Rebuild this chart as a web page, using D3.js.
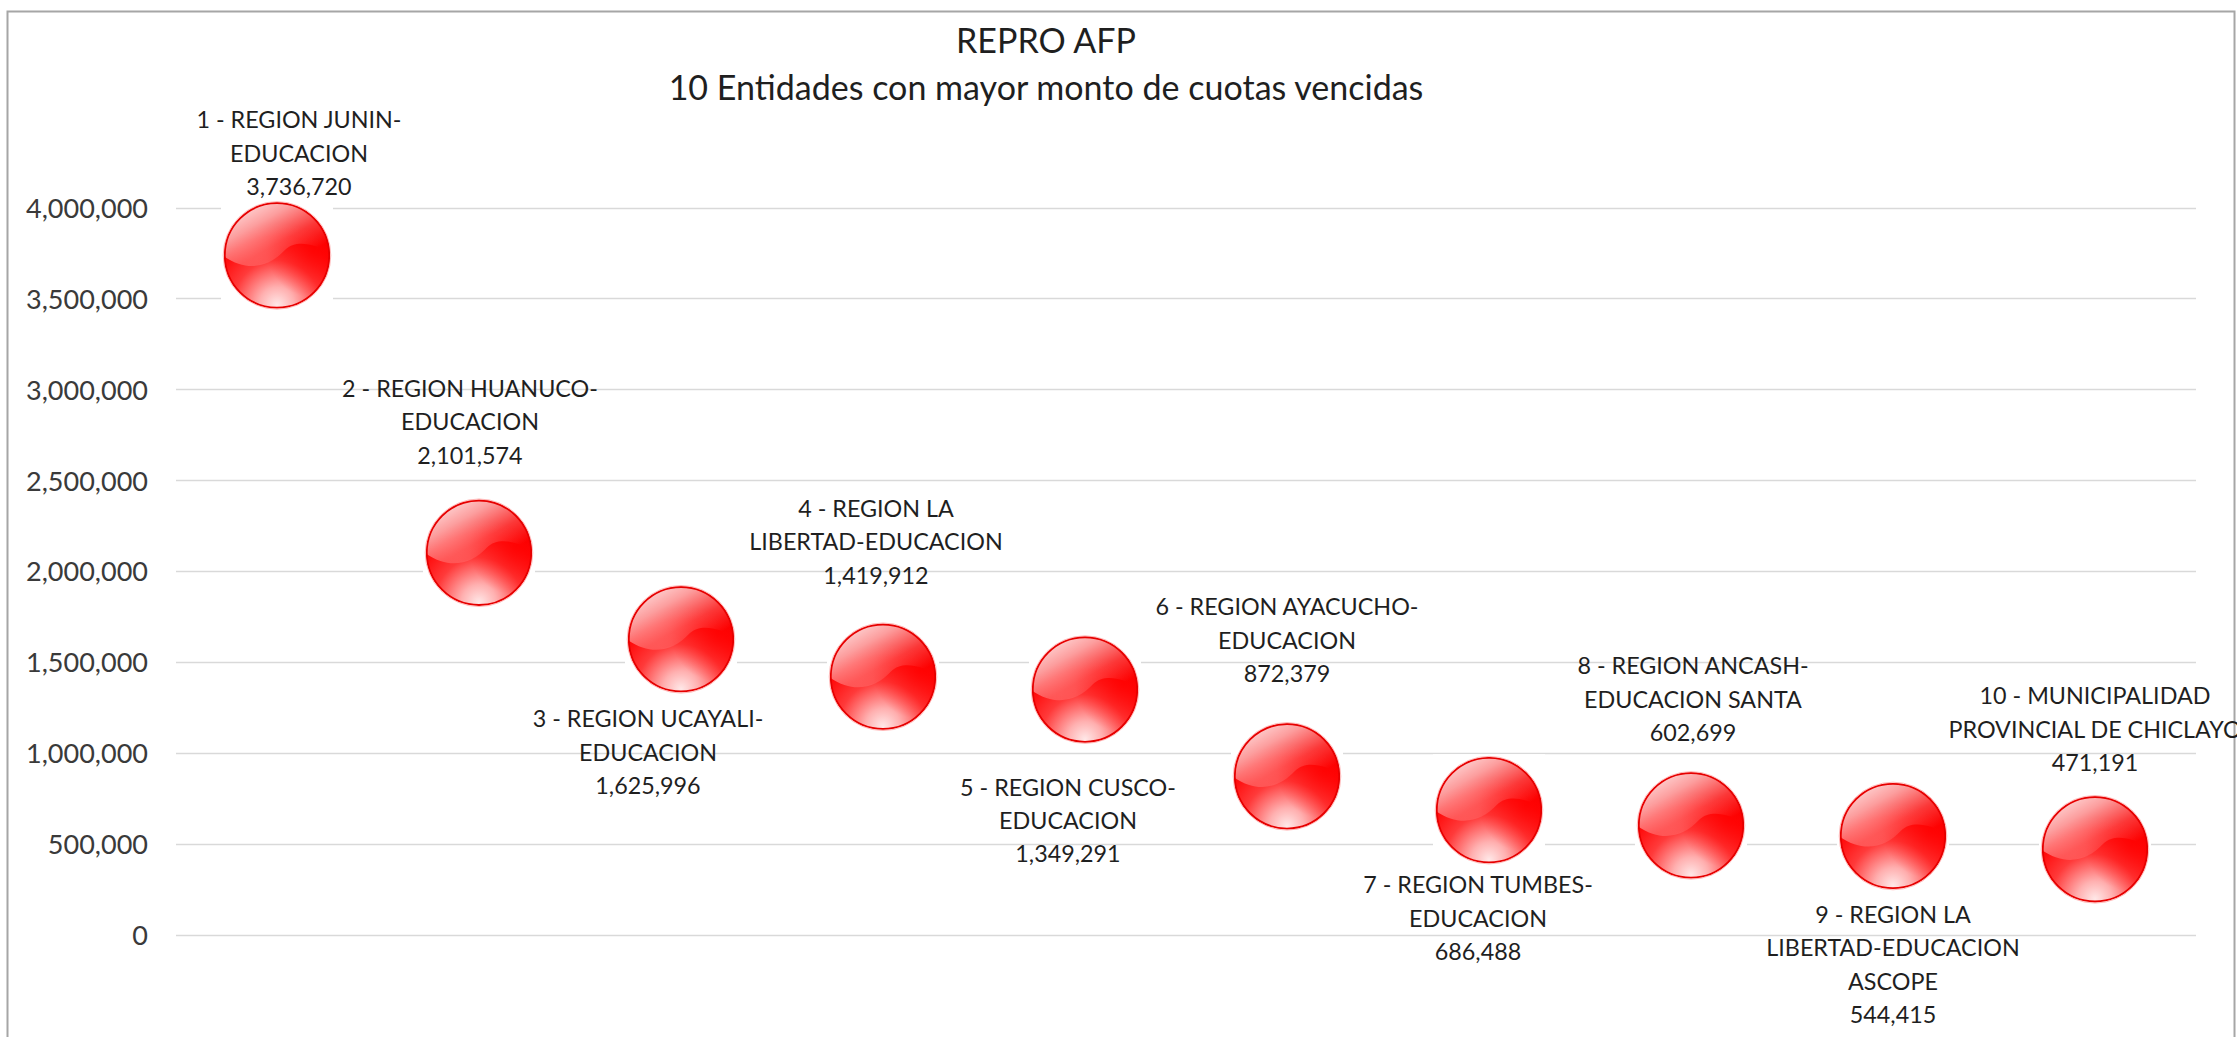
<!DOCTYPE html>
<html>
<head>
<meta charset="utf-8">
<script src="https://cdn.jsdelivr.net/npm/d3@7"></script>
<style>
  html, body { margin: 0; padding: 0; background: #ffffff; }
  svg { display: block; }
</style>
</head>
<body>
<svg id="chart" width="2237" height="1037"></svg>
<script>
// ---------------- DATA ----------------
const titleLines = ["REPRO AFP", "10 Entidades con mayor monto de cuotas vencidas"];
const entityNames = [
  ["1 - REGION JUNIN-", "EDUCACION"],
  ["2 - REGION HUANUCO-", "EDUCACION"],
  ["3 - REGION UCAYALI-", "EDUCACION"],
  ["4 - REGION LA", "LIBERTAD-EDUCACION"],
  ["5 - REGION CUSCO-", "EDUCACION"],
  ["6 - REGION AYACUCHO-", "EDUCACION"],
  ["7 - REGION TUMBES-", "EDUCACION"],
  ["8 - REGION ANCASH-", "EDUCACION SANTA"],
  ["9 - REGION LA", "LIBERTAD-EDUCACION", "ASCOPE"],
  ["10 - MUNICIPALIDAD", "PROVINCIAL DE CHICLAYO"]
];
const amounts = [3736720, 2101574, 1625996, 1419912, 1349291, 872379, 686488, 602699, 544415, 471191];
const yTicks = [0, 500000, 1000000, 1500000, 2000000, 2500000, 3000000, 3500000, 4000000];

// ---------------- LAYOUT (not data) ----------------
// label offset from bubble centre: [dx, dy of first baseline]
const labelOffsets = [[22, -127], [-9, -156], [-33, 88], [-7, -160], [-17, 106],
                      [0, -161], [-11, 83], [2, -151], [0, 87], [0, -145]];
const plot = { left: 176, right: 2196, top: 207.5, bottom: 935 };
const bubbleR = 53;
const lineGap = 33.4;

const svg = d3.select("#chart");
const fontFam = "Lato, 'Open Sans', 'Noto Sans', sans-serif";

function fitSize(sample, target) {
  const t = svg.append("text").attr("font-family", fontFam).attr("font-size", 100).text(sample);
  const w = t.node().getComputedTextLength();
  t.remove();
  return 100 * target / w;
}
const labelSize = fitSize("EDUCACION", 138);
const axisSize = fitSize("1,000,000", 122);
const titleSize = fitSize(titleLines[1], 755);

// chart border
svg.append("rect")
  .attr("x", 7.5).attr("y", 11.5).attr("width", 2227).attr("height", 1100)
  .attr("fill", "#ffffff").attr("stroke", "#a6a6a6").attr("stroke-width", 2);

// scales
const idx = d3.range(amounts.length);
const x = d3.scalePoint().domain(idx).range([plot.left, plot.right]).padding(0.5);
const y = d3.scaleLinear().domain([0, 4000000]).range([plot.bottom, plot.top]);
const fmt = d3.format(",");

// gridlines
svg.append("g").selectAll("line").data(yTicks).join("line")
  .attr("x1", plot.left).attr("x2", plot.right)
  .attr("y1", d => Math.round(y(d)) + 0.5).attr("y2", d => Math.round(y(d)) + 0.5)
  .attr("stroke", "#d9d9d9").attr("stroke-width", 1.6);

// y axis labels
const yAxis = d3.axisLeft(y).tickValues(yTicks).tickFormat(fmt).tickSize(0).tickPadding(0);
const gy = svg.append("g").attr("transform", `translate(148,0)`).call(yAxis);
gy.select(".domain").remove();
gy.selectAll("text")
  .attr("font-family", fontFam).attr("font-size", axisSize)
  .attr("fill", "#3a3a3a").attr("x", 0).attr("dy", "0.36em");

// title
svg.append("text")
  .attr("x", 1046).attr("y", 53)
  .attr("text-anchor", "middle").attr("font-family", fontFam)
  .attr("font-size", titleSize).attr("fill", "#1f1f1f")
  .selectAll("tspan").data(titleLines).join("tspan")
  .attr("x", 1046).attr("dy", (d, i) => i === 0 ? 0 : 47)
  .text(d => d);

// defs for glossy bubbles
const defs = svg.append("defs");
const base = defs.append("radialGradient").attr("id", "ballBase")
  .attr("cx", 0.5).attr("cy", 0.95).attr("r", 0.75).attr("fx", 0.5).attr("fy", 0.97);
[[0, "#ffe8e8"], [0.22, "#ffb0b0"], [0.55, "#ff3a3a"], [0.85, "#ff0a0a"], [1, "#f80000"]]
  .forEach(([o, c]) => base.append("stop").attr("offset", o).attr("stop-color", c));
const shine = defs.append("linearGradient").attr("id", "ballShine")
  .attr("x1", 0.15).attr("y1", 0.0).attr("x2", 0.85).attr("y2", 0.75);
[[0, 0.9], [0.35, 0.62], [0.7, 0.22], [1, 0.0]]
  .forEach(([o, a]) => shine.append("stop").attr("offset", o).attr("stop-color", "#ffffff").attr("stop-opacity", a));
const side = defs.append("radialGradient").attr("id", "ballSide")
  .attr("cx", 0.85).attr("cy", 0.45).attr("r", 0.45);
side.append("stop").attr("offset", 0).attr("stop-color", "#ff0000").attr("stop-opacity", 0.75);
side.append("stop").attr("offset", 1).attr("stop-color", "#ff0000").attr("stop-opacity", 0);
defs.append("clipPath").attr("id", "ballClip")
  .append("circle").attr("cx", 0).attr("cy", 0).attr("r", bubbleR);

const r = bubbleR;
const shinePath = `M${-r},${0.02 * r} C${-0.55 * r},${0.32 * r} ${-0.15 * r},${0.22 * r} ${0.15 * r},${-0.1 * r}
  C${0.35 * r},${-0.3 * r} ${0.7 * r},${-0.22 * r} ${r},${-0.05 * r} L${r},${-r} L${-r},${-r} Z`;

// bubbles
const bubbles = svg.append("g").selectAll("g").data(idx).join("g")
  .attr("transform", i => `translate(${x(i)},${y(amounts[i])})`);
bubbles.append("rect")
  .attr("x", -r - 3).attr("y", -r - 3).attr("width", 2 * r + 6).attr("height", 2 * r + 6)
  .attr("fill", "#ffffff");
bubbles.append("circle").attr("r", r).attr("fill", "url(#ballBase)");
bubbles.append("circle").attr("r", r).attr("fill", "url(#ballSide)");
bubbles.append("path").attr("d", shinePath).attr("clip-path", "url(#ballClip)")
  .attr("fill", "url(#ballShine)");
bubbles.append("circle").attr("r", r - 0.8).attr("fill", "none")
  .attr("stroke", "#e60000").attr("stroke-width", 1.8);
bubbles.append("circle").attr("r", r + 0.8).attr("fill", "none")
  .attr("stroke", "#ff9a9a").attr("stroke-width", 1).attr("stroke-opacity", 0.7);

// data labels
const labels = svg.append("g").selectAll("text").data(idx).join("text")
  .attr("text-anchor", "middle").attr("font-family", fontFam)
  .attr("font-size", labelSize).attr("fill", "#1f1f1f");
labels.each(function (i) {
  const lines = entityNames[i].concat([fmt(amounts[i])]);
  const cx = x(i) + labelOffsets[i][0];
  const y0 = y(amounts[i]) + labelOffsets[i][1];
  d3.select(this).selectAll("tspan").data(lines).join("tspan")
    .attr("x", cx).attr("y", (d, k) => y0 + k * lineGap).text(d => d);
});
</script>
</body>
</html>
